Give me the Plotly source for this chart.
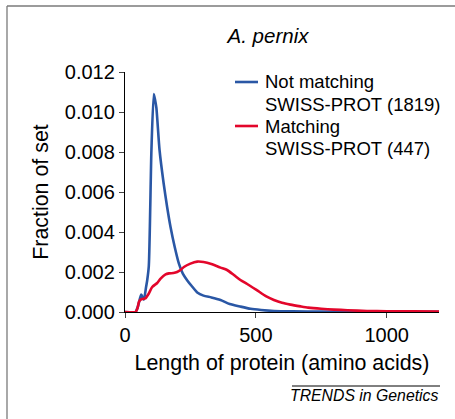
import plotly.graph_objects as go

# Protein length (amino acids) vs fraction of set
blue_x = [0, 40, 50, 62, 72, 80, 85, 91, 101, 110, 115, 120, 132, 148, 161, 174, 190, 206,
          221, 238, 255, 276, 300, 330, 365, 400, 441, 480, 520, 570, 640, 750, 900, 1200]
blue_y = [0, 0, 0.0003, 0.00087, 0.00062, 0.0012, 0.0016, 0.0023, 0.0081, 0.0109, 0.0106,
          0.0102, 0.0081, 0.0064, 0.00525, 0.00425, 0.00325, 0.00242, 0.00192, 0.00158,
          0.0013, 0.00098, 0.00082, 0.00073, 0.0006, 0.0004, 0.00027, 0.00016, 0.0001,
          0.00005, 0.00003, 0.00002, 0.00001, 0.00001]

red_x = [0, 40, 48, 53, 60, 66, 78, 90, 104, 123, 136, 155, 168, 185, 199, 212, 225, 250,
         276, 300, 330, 365, 390, 416, 441, 467, 505, 540, 569, 600, 632, 671, 700, 750,
         798, 850, 925, 1000, 1100, 1200]
red_y = [0, 0, 0.0002, 0.0005, 0.00062, 0.00065, 0.00068, 0.0009, 0.00125, 0.00145,
         0.00167, 0.00188, 0.00193, 0.00195, 0.002, 0.0021, 0.00225, 0.00242, 0.00252,
         0.0025, 0.0024, 0.00222, 0.0021, 0.00185, 0.0016, 0.0014, 0.00108, 0.00078,
         0.0006, 0.00046, 0.00037, 0.00028, 0.00022, 0.00016, 0.00012, 0.00009, 0.00005,
         0.00004, 0.00003, 0.00002]

blue_label = ["Not matching", "SWISS-PROT (1819)"]
red_label = ["Matching", "SWISS-PROT (447)"]

x_ticks = [0, 500, 1000]
y_ticks = [0.000, 0.002, 0.004, 0.006, 0.008, 0.010, 0.012]
y_tick_text = ["0.000", "0.002", "0.004", "0.006", "0.008", "0.010", "0.012"]

FONT = "Liberation Sans, Arial, Helvetica, sans-serif"
BLUE = "#2a57a5"
RED = "#e3062b"

fig = go.Figure()
fig.add_trace(go.Scatter(x=blue_x, y=blue_y, mode="lines", name=" ".join(blue_label),
                         line=dict(color=BLUE, width=2.6, shape="spline", smoothing=0.6),
                         cliponaxis=False, showlegend=False))
fig.add_trace(go.Scatter(x=red_x, y=red_y, mode="lines", name=" ".join(red_label),
                         line=dict(color=RED, width=2.6, shape="spline", smoothing=0.6),
                         cliponaxis=False, showlegend=False))

L, R, T, B = 125, 16, 72, 107
W, H = 455, 419
pw, ph = W - L - R, H - T - B

def px(xp):
    return (xp - L) / pw

def py(yp):
    return (H - B - yp) / ph

shapes = [
    dict(type="line", xref="paper", yref="paper", x0=px(7), x1=px(W + 2),
         y0=py(6), y1=py(6), line=dict(color="#7a7a7a", width=1.3)),
    dict(type="line", xref="paper", yref="paper", x0=px(7), x1=px(7),
         y0=py(6), y1=py(H + 2), line=dict(color="#7a7a7a", width=1.3)),
    dict(type="line", xref="paper", yref="paper", x0=px(292), x1=px(440),
         y0=py(386), y1=py(386), line=dict(color="black", width=1)),
]
annotations = [
    dict(text="<i>TRENDS in Genetics</i>", xref="paper", yref="paper",
         x=px(440), y=py(395), xanchor="right", yanchor="middle", showarrow=False,
         font=dict(size=15.8, family=FONT, color="black")),
]

# manual legend
LEG_FONT = 18.5
for (color, label, y0) in [(BLUE, blue_label, 82), (RED, red_label, 126)]:
    shapes.append(dict(type="line", xref="paper", yref="paper", x0=px(235), x1=px(258),
                       y0=py(y0), y1=py(y0), line=dict(color=color, width=2.6)))
    for i, txt in enumerate(label):
        annotations.append(dict(text=txt, xref="paper", yref="paper", x=px(263),
                                y=py(y0 + 22 * i), xanchor="left", yanchor="middle",
                                showarrow=False,
                                font=dict(size=LEG_FONT, family=FONT, color="black")))

fig.update_layout(
    width=W, height=H,
    margin=dict(l=L, r=R, t=T, b=B, autoexpand=False),
    paper_bgcolor="white", plot_bgcolor="white",
    font=dict(family=FONT, color="black", size=20),
    title=dict(text="<i>A. pernix</i>", x=268 / W, xanchor="center",
               y=1 - 36 / H, yanchor="middle", font=dict(size=20.5, family=FONT)),
    showlegend=False,
    xaxis=dict(range=[0, 1200], tickvals=x_ticks, ticks="outside", ticklen=5,
               tickwidth=1.3, showline=True, linecolor="black", linewidth=1.3,
               showgrid=False, zeroline=False, tickfont=dict(size=20), automargin=False,
               title=dict(text="Length of protein (amino acids)", font=dict(size=21.4),
                          standoff=9)),
    yaxis=dict(range=[0, 0.012], tickvals=y_ticks, ticktext=y_tick_text, ticks="outside",
               ticklen=5, tickwidth=1.3, showline=True, linecolor="black", linewidth=1.3,
               showgrid=False, zeroline=False, tickfont=dict(size=20), automargin=False,
               title=dict(text="Fraction of set", font=dict(size=21.4), standoff=10)),
    shapes=shapes,
    annotations=annotations,
)

fig.write_html("out.html", config={"displayModeBar": False},
               post_script="document.body.style.margin='0';")
